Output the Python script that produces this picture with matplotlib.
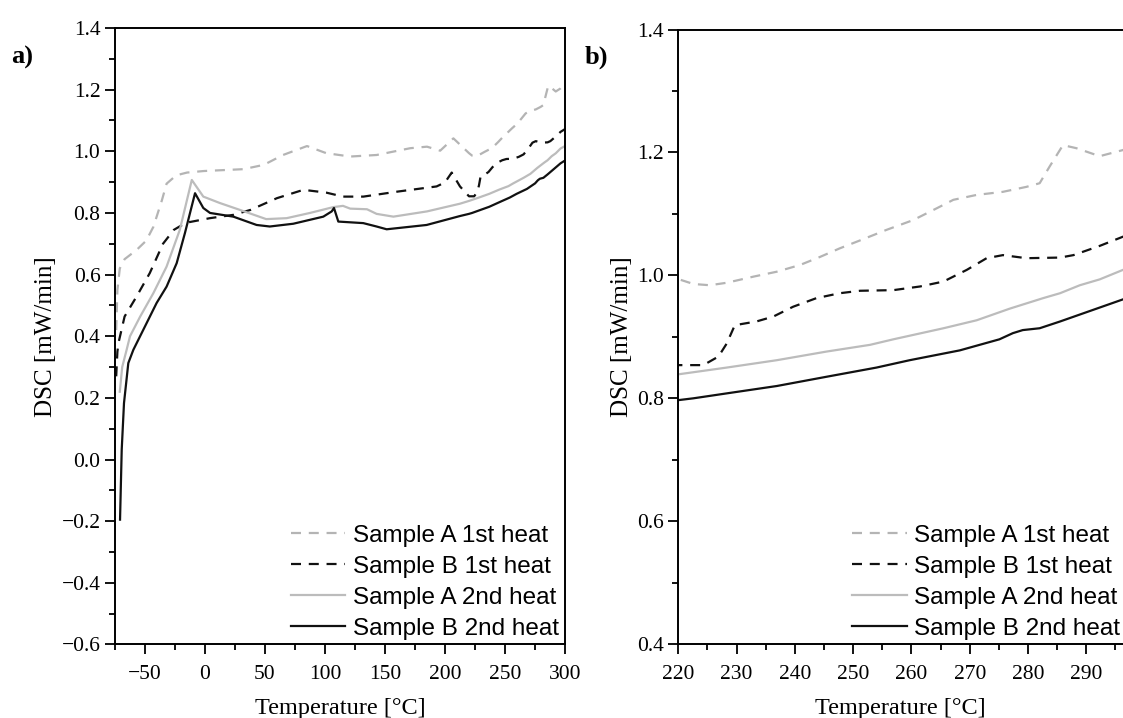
import matplotlib
matplotlib.use("Agg")
import matplotlib.pyplot as plt
from matplotlib.ticker import MultipleLocator

plt.rcParams["font.family"] = "serif"
plt.rcParams["font.serif"] = ["Liberation Serif", "DejaVu Serif"]

# Sample A, 1st heat
t_a1 = [-74, -73, -71, -67, -57, -49, -43, -36, -32, -24, -15, -1, 32, 49, 65,
        85, 101, 121, 143, 171, 185, 196, 207, 220, 222.6, 225.4, 228.3, 232.9,
        236.9, 240.9, 244.3, 247.7, 251.2, 255.7, 260.3, 264.3, 267.2, 271.2,
        275.7, 279.7, 282, 283.7, 286, 288.3, 292.3, 296.3, 300]
dsc_a1 = [0.42, 0.55, 0.62, 0.65, 0.68, 0.71, 0.755, 0.84, 0.895, 0.922, 0.931,
          0.936, 0.942, 0.956, 0.988, 1.017, 0.994, 0.983, 0.988, 1.010, 1.015,
          1.002, 1.042, 0.994, 0.986, 0.984, 0.988, 0.998, 1.006, 1.017, 1.030,
          1.044, 1.057, 1.074, 1.090, 1.109, 1.123, 1.131, 1.136, 1.144, 1.150,
          1.177, 1.212, 1.207, 1.194, 1.204, 1.22]

# Sample B, 1st heat
t_b1 = [-74, -73, -72, -67, -57, -46, -35, -26, -16, 4, 24, 38, 60, 82, 101,
        115, 132, 160, 193, 200, 205.6, 212.5, 220, 224.3, 226.9, 228.3, 229.7,
        233.4, 236.3, 239.7, 243.7, 247.7, 251.2, 256.9, 261.5, 265.5, 269.5,
        272.9, 275.7, 279.7, 285.5, 287.8, 292.3, 296.3, 300]
dsc_b1 = [0.27, 0.35, 0.38, 0.464, 0.529, 0.605, 0.70, 0.745, 0.768, 0.783,
          0.794, 0.81, 0.848, 0.875, 0.866, 0.853, 0.853, 0.869, 0.886, 0.899,
          0.931, 0.886, 0.854, 0.854, 0.868, 0.889, 0.919, 0.925, 0.933, 0.949,
          0.963, 0.971, 0.975, 0.976, 0.982, 0.990, 1.009, 1.028, 1.033, 1.028,
          1.029, 1.033, 1.048, 1.063, 1.072]

# Sample A, 2nd heat
t_a2 = [-71, -69, -65.3, -62.5, -54, -43, -32, -21, -11, -1.4, 12.5, 29, 51, 68,
        87.5, 107, 115, 121, 135, 143, 157, 185, 212.5, 220, 228.3, 236.9, 245.4,
        252.9, 256.9, 265.5, 271.2, 276.9, 282.6, 285.5, 288.9, 292.3, 296.3, 300]
dsc_a2 = [0.22, 0.30, 0.356, 0.40, 0.464, 0.54, 0.626, 0.745, 0.907, 0.853,
          0.832, 0.81, 0.78, 0.783, 0.80, 0.819, 0.823, 0.814, 0.812, 0.797,
          0.788, 0.805, 0.830, 0.839, 0.850, 0.862, 0.876, 0.887, 0.896, 0.914,
          0.927, 0.946, 0.963, 0.971, 0.984, 0.9935, 1.009, 1.017]

# Sample B, 2nd heat
t_b2 = [-70.8, -69.4, -67.5, -63.9, -59.7, -51.4, -40.3, -32, -23.6, -16.7, -8.3,
        -1.4, 4.2, 23.6, 43, 54, 73.6, 98.6, 105.6, 107.5, 111.1, 131.9, 143,
        151.4, 184.7, 212.5, 220, 222.6, 228.3, 236.9, 245.4, 254, 259.7, 268.3,
        275.1, 277.4, 279.1, 282, 285.5, 291.2, 296.3, 300]
dsc_b2 = [-0.195, 0.032, 0.183, 0.313, 0.356, 0.421, 0.508, 0.561, 0.637, 0.735,
          0.864, 0.816, 0.80, 0.788, 0.761, 0.756, 0.765, 0.788, 0.805, 0.816,
          0.772, 0.767, 0.756, 0.747, 0.761, 0.790, 0.797, 0.80, 0.808, 0.820,
          0.835, 0.850, 0.862, 0.878, 0.896, 0.906, 0.911, 0.914, 0.925, 0.944,
          0.961, 0.970]

labels = ["Sample A 1st heat", "Sample B 1st heat",
          "Sample A 2nd heat", "Sample B 2nd heat"]

fig = plt.figure(figsize=(11.23, 7.18), dpi=100)
ax1 = fig.add_axes([0.1024, 0.1024, 0.4007, 0.8586])
ax2 = fig.add_axes([0.604, 0.1029, 0.396, 0.8559])


def draw(ax, anchor_x):
    ax.plot(t_a1, dsc_a1, color="#b4b4b4", lw=1.6, dashes=(4.5, 3.5), label=labels[0])
    ax.plot(t_b1, dsc_b1, color="#111111", lw=1.6, dashes=(4.5, 3.5), label=labels[1])
    ax.plot(t_a2, dsc_a2, color="#bcbcbc", lw=1.6, label=labels[2])
    ax.plot(t_b2, dsc_b2, color="#111111", lw=1.6, label=labels[3])
    ax.tick_params(which="both", direction="out", labelsize=15.5, width=1.3)
    ax.tick_params(which="major", length=7)
    ax.tick_params(which="minor", length=4)
    ax.tick_params(axis="x", which="major", pad=8)
    for s in ax.spines.values():
        s.set_linewidth(1.4)
    ax.set_xlabel("Temperature [°C]", fontsize=17.5, labelpad=10)
    ax.set_ylabel("DSC [mW/min]", fontsize=18, labelpad=3)
    ax.legend(loc="lower right", bbox_to_anchor=(anchor_x, 0.109),
              bbox_transform=fig.transFigure, frameon=False, borderpad=0,
              borderaxespad=0, labelspacing=0.37, handlelength=2.25,
              handletextpad=0.3, prop={"family": "Liberation Sans", "size": 17.5})


draw(ax1, 0.4975)
ax1.set_xlim(-75, 300)
ax1.set_ylim(-0.6, 1.4)
ax1.xaxis.set_major_locator(MultipleLocator(50))
ax1.xaxis.set_minor_locator(MultipleLocator(25))
ax1.yaxis.set_major_locator(MultipleLocator(0.2))
ax1.yaxis.set_minor_locator(MultipleLocator(0.1))
ax1.yaxis.set_major_formatter(plt.FuncFormatter(lambda v, p: f"{v:.1f}".replace("-", "\u2212")))

draw(ax2, 0.9975)
ax2.set_xlim(220, 296.3)
ax2.set_ylim(0.4, 1.4)
ax2.spines["right"].set_visible(False)
ax2.xaxis.set_major_locator(MultipleLocator(10))
ax2.xaxis.set_minor_locator(MultipleLocator(5))
ax2.yaxis.set_major_locator(MultipleLocator(0.2))
ax2.yaxis.set_minor_locator(MultipleLocator(0.1))
ax2.yaxis.set_major_formatter(plt.FuncFormatter(lambda v, p: f"{v:.1f}"))

fig.text(0.010, 0.92, "a)", fontsize=19, fontweight="bold", va="center")
fig.text(0.521, 0.92, "b)", fontsize=19, fontweight="bold", va="center")

fig.savefig("out.png", dpi=100)
